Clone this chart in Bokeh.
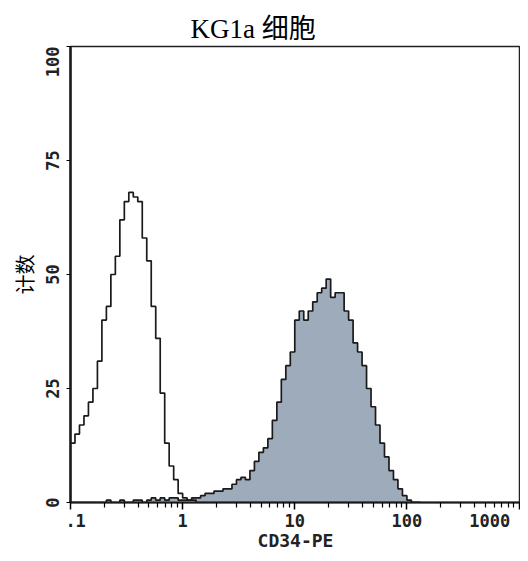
from bokeh.plotting import figure
from bokeh.models import FixedTicker
from bokeh.embed import file_html
from bokeh.resources import INLINE

# bin lower edges, log10 of CD34-PE fluorescence
log_lo = [-1.00, -0.96, -0.92, -0.88, -0.84, -0.80, -0.76, -0.72, -0.68, -0.64,
          -0.60, -0.56, -0.52, -0.48, -0.44, -0.40, -0.36, -0.32, -0.28, -0.24,
          -0.20, -0.16, -0.12, -0.08, -0.04, 0.00, 0.04, 0.08, 0.12, 0.16,
          0.20, 0.24, 0.28, 0.32, 0.36, 0.40, 0.44, 0.48, 0.52, 0.56,
          0.60, 0.64, 0.68, 0.72, 0.76, 0.80, 0.84, 0.88, 0.92, 0.96,
          1.00, 1.04, 1.08, 1.12, 1.16, 1.20, 1.24, 1.28, 1.32, 1.36,
          1.40, 1.44, 1.48, 1.52, 1.56, 1.60, 1.64, 1.68, 1.72, 1.76,
          1.80, 1.84, 1.88, 1.92, 1.96, 2.00, 2.04, 2.08]

# isotype control (open histogram)
isotype_counts = [13, 15, 17, 19, 22, 25, 31, 40, 43, 50,
                  54, 62, 66, 68, 67, 66, 58, 53, 43, 36,
                  24, 13, 8, 5, 2, 1, 0.5, 0.5, 0, 0,
                  0, 0, 0, 0, 0, 0, 0, 0, 0, 0,
                  0, 0, 0, 0, 0, 0, 0, 0, 0, 0,
                  0, 0, 0, 0, 0, 0, 0, 0, 0, 0,
                  0, 0, 0, 0, 0, 0, 0, 0, 0, 0,
                  0, 0, 0, 0, 0, 0, 0, 0]

# CD34-PE stained (filled histogram)
cd34_counts = [0, 0, 0, 0, 0, 0, 0, 0, 0.5, 0,
               0, 0.5, 0, 0, 0.5, 0.5, 0, 0.5, 1, 0.5,
               1, 0.5, 1, 1, 0.5, 0.5, 0.5, 1, 1, 1.5,
               2, 2, 2.5, 2.5, 3, 3, 4, 5, 5.5, 5,
               7, 9, 11, 12, 14, 18, 22, 27, 30, 33,
               40, 42, 40, 42, 44, 46, 47, 49, 45, 46,
               46, 42, 40, 35, 33, 30, 25, 21, 17, 13,
               10, 7, 5, 3, 1.5, 0.5, 0, 0]

x_ticks = [0.1, 1, 10, 100, 1000]
x_tick_labels = ["\u00a0.1", "1", "10", "100", "1000\u00a0"]
x_minor = [0.2, 0.3, 0.4, 0.5, 0.6, 0.7, 0.8, 0.9,
           2, 3, 4, 5, 6, 7, 8, 9,
           20, 30, 40, 50, 60, 70, 80, 90,
           200, 300, 400, 500, 600, 700, 800, 900]
y_ticks = [0, 25, 50, 75, 100]
y_tick_labels = ["0", "25", "50", "75", "100\u00a0\u00a0\u00a0"]

step = log_lo[1] - log_lo[0]
edges = [10 ** v for v in log_lo] + [10 ** (log_lo[-1] + step)]

p = figure(width=520, height=553, x_axis_type="log",
           x_range=(0.1, 1030), y_range=(0, 100),
           output_backend="svg", toolbar_location=None,
           min_border_left=70, min_border_right=0, min_border_top=46,
           min_border_bottom=51)

p.title.text = "KG1a 细胞"
p.title.text_font = "'Liberation Serif', 'Noto Sans CJK SC'"
p.title.text_font_size = "27px"
p.title.text_font_style = "normal"
p.title.text_color = "black"
p.title.align = "left"
p.title.offset = 120
p.title.standoff = 6

p.grid.visible = False
p.outline_line_color = "#222222"
p.outline_line_width = 1.5
p.background_fill_color = "white"
p.border_fill_color = "white"

p.varea_step(x=edges, y1=[0] * len(edges), y2=cd34_counts + [0],
             step_mode="after", fill_color="#9DABBA")

p.step(edges, cd34_counts + [0], mode="after", line_color="#1a1a1a", line_width=1.7)
p.step(edges, isotype_counts + [0], mode="after", line_color="#1a1a1a", line_width=1.7)

xa = p.xaxis[0]
xa.ticker = FixedTicker(ticks=x_ticks, minor_ticks=x_minor)
xa.major_label_overrides = {t: l for t, l in zip(x_ticks, x_tick_labels)}
xa.axis_label = "CD34-PE"
xa.axis_label_text_font = "DejaVu Sans Mono"
xa.axis_label_text_font_style = "bold"
xa.axis_label_text_font_size = "18px"
xa.axis_label_text_color = "#222222"
xa.axis_label_standoff = -4
xa.major_label_text_font = "DejaVu Sans Mono"
xa.major_label_text_font_style = "bold"
xa.major_label_text_font_size = "17px"
xa.major_label_text_color = "#222222"
xa.major_label_standoff = 1
xa.major_tick_out = 7
xa.major_tick_in = 0
xa.minor_tick_out = 5
xa.minor_tick_in = 0
xa.axis_line_width = 2
xa.axis_line_color = "#1a1a1a"
xa.major_tick_line_width = 1.5
xa.minor_tick_line_width = 1.2

ya = p.yaxis[0]
ya.ticker = FixedTicker(ticks=y_ticks, minor_ticks=[])
ya.major_label_overrides = {t: l for t, l in zip(y_ticks, y_tick_labels)}
ya.axis_label = "计数"
ya.axis_label_text_font = "'Liberation Serif', 'Noto Sans CJK SC'"
ya.axis_label_text_font_style = "normal"
ya.axis_label_text_font_size = "20px"
ya.axis_label_text_color = "black"
ya.axis_label_standoff = 3
ya.major_label_orientation = "vertical"
ya.major_label_text_font = "DejaVu Sans Mono"
ya.major_label_text_font_style = "bold"
ya.major_label_text_font_size = "17px"
ya.major_label_text_color = "#222222"
ya.major_label_standoff = 4
ya.major_tick_out = 4
ya.major_tick_in = 0
ya.axis_line_width = 2.5
ya.axis_line_color = "#1a1a1a"

open("out.html", "w").write(file_html(p, INLINE))
